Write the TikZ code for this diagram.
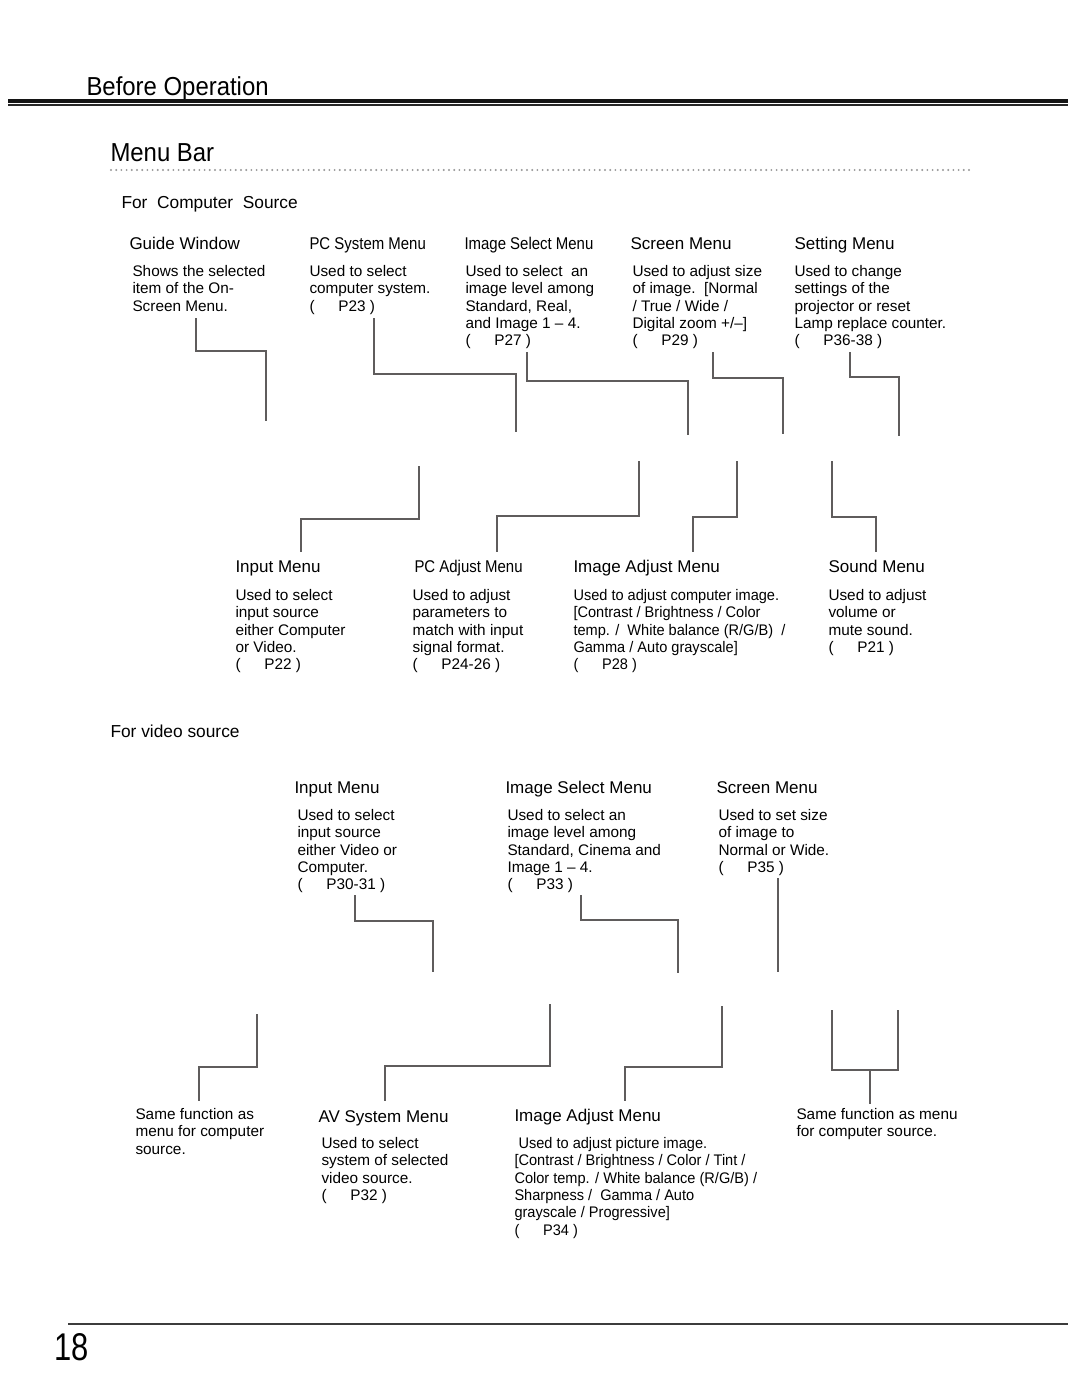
\documentclass[tikz,border=0pt]{standalone}
\usepackage{fontspec}
\setmainfont{Liberation Sans}
\newfontfamily\narrowfont{Liberation Sans}[FakeStretch=0.88]
\newfontfamily\semifont{Liberation Sans}[FakeStretch=0.95]
\newfontfamily\titlefont{Liberation Sans}[FakeStretch=0.92]
\newfontfamily\numfont{Liberation Sans}[FakeStretch=0.8]
\newcommand{\pref}[1]{(\hspace{1.55em}#1 )}

\tikzset{every picture/.style={line width=0.75pt}}

\begin{document}
\begin{tikzpicture}[x=0.75pt,y=0.75pt,yscale=-1,xscale=1,
  head/.style={anchor=base west,inner sep=0pt,font=\fontsize{12.75}{15}\selectfont},
  nhead/.style={head,font=\fontsize{12.75}{15}\selectfont\narrowfont},
  body/.style={anchor=north west,inner sep=0pt,align=left,font=\fontsize{11.5}{13}\selectfont},
  nbody/.style={body,font=\fontsize{11.5}{13}\selectfont\semifont},
  link/.style={draw={rgb, 255:red, 95; green, 92; blue, 92},line width=1pt}]
\path[use as bounding box] (0,0) rectangle (1080,1397);

%Page header
\node (before) [anchor=base west,inner sep=0pt,font=\fontsize{19.5}{22}\selectfont\titlefont] at (86,95) {Before Operation};
\coordinate (ruleL) at (8,101);
\coordinate (ruleR) at (1068,101);
\coordinate (rule2L) at (8,104.8);
\coordinate (rule2R) at (1068,104.8);
\draw [line width=3pt,color={rgb, 255:red, 20; green, 20; blue, 20}] (ruleL) -- (ruleR);
\draw [line width=1.1pt,color={rgb, 255:red, 40; green, 40; blue, 40}] (rule2L) -- (rule2R);

\node (menubar) [anchor=base west,inner sep=0pt,font=\fontsize{19.5}{22}\selectfont\titlefont] at (110,161) {Menu Bar};
\coordinate (dotL) at (111,170);
\coordinate (dotR) at (970,170);
\draw [color={rgb, 255:red, 150; green, 150; blue, 150},line width=1.6pt,line cap=round,dash pattern=on 0pt off 3.9pt] (dotL) -- (dotR);

% Text Node
\node (forpc) [head,font=\fontsize{13}{15}\selectfont] at (121,208) {For\ \ Computer\ \ Source};

%Computer source, upper row
\node (guide) [head] at (129,249) {Guide Window};
\node (guidetx) [body] at (132,265) {Shows the selected\\item of the On-\\Screen Menu.};
\node (pcsys) [nhead] at (309,249) {PC System Menu};
\node (pcsystx) [body] at (309,265) {Used to select\\computer system.\\\pref{P23}};
\node (imgsel) [nhead] at (464,249) {Image Select Menu};
\node (imgseltx) [body] at (465,265) {Used to select\ \ an\\image level among\\Standard, Real,\\and Image 1 – 4.\\\pref{P27}};
\node (screen) [head] at (630,249) {Screen Menu};
\node (screentx) [body] at (632,265) {Used to adjust size\\of image.\ \ [Normal\\/ True / Wide /\\Digital zoom +/–]\\\pref{P29}};
\node (setting) [head] at (794,249) {Setting Menu};
\node (settingtx) [body] at (794,265) {Used to change\\settings of the\\projector or reset\\Lamp replace counter.\\\pref{P36-38}};

%Computer source, lower row
\node (input) [head] at (235,572) {Input Menu};
\node (inputtx) [body] at (235,589) {Used to select\\input source\\either Computer\\or Video.\\\pref{P22}};
\node (pcadj) [nhead] at (414,572) {PC Adjust Menu};
\node (pcadjtx) [body] at (412,589) {Used to adjust\\parameters to\\match with input\\signal format.\\\pref{P24-26}};
\node (imgadj) [head] at (573,572) {Image Adjust Menu};
\node (imgadjtx) [nbody] at (573,589) {Used to adjust computer image.\\{}[Contrast / Brightness / Color\\temp. /\ \ White balance (R/G/B)\ \ /\\Gamma / Auto grayscale]\\\pref{P28}};
\node (sound) [head] at (828,572) {Sound Menu};
\node (soundtx) [body] at (828,589) {Used to adjust\\volume or\\mute sound.\\\pref{P21}};

%Straight Lines, computer source
\coordinate (gw1) at (196,318);   \coordinate (gw2) at (266,421);
\coordinate (pcs1) at (374,318);  \coordinate (pcs2) at (516,432);
\coordinate (isl1) at (527,352);  \coordinate (isl2) at (688,435);
\coordinate (scr1) at (713,352);  \coordinate (scr2) at (783,434);
\coordinate (set1) at (850,352);  \coordinate (set2) at (899,436);
\coordinate (inp1) at (419,466);  \coordinate (inp2) at (301,552);
\coordinate (pca1) at (639,461);  \coordinate (pca2) at (497,552);
\coordinate (iad1) at (737,461);  \coordinate (iad2) at (693,552);
\coordinate (snd1) at (832,461);  \coordinate (snd2) at (876,552);
\draw [link] (gw1) -- ++(0,33) -| (gw2);
\draw [link] (pcs1) -- ++(0,56) -| (pcs2);
\draw [link] (isl1) -- ++(0,29) -| (isl2);
\draw [link] (scr1) -- ++(0,26) -| (scr2);
\draw [link] (set1) -- ++(0,25) -| (set2);
\draw [link] (inp1) -- ++(0,53) -| (inp2);
\draw [link] (pca1) -- ++(0,55) -| (pca2);
\draw [link] (iad1) -- ++(0,56) -| (iad2);
\draw [link] (snd1) -- ++(0,56) -| (snd2);

% Text Node
\node (forvideo) [head,font=\fontsize{13}{15}\selectfont] at (110,737) {For video source};

%Video source, upper row
\node (vinput) [head] at (294,793) {Input Menu};
\node (vinputtx) [body] at (297,809) {Used to select\\input source\\either Video or\\Computer.\\\pref{P30-31}};
\node (vimgsel) [head] at (505,793) {Image Select Menu};
\node (vimgseltx) [body] at (507,809) {Used to select an\\image level among\\Standard, Cinema and\\Image 1 – 4.\\\pref{P33}};
\node (vscreen) [head] at (716,793) {Screen Menu};
\node (vscreentx) [body] at (718,809) {Used to set size\\of image to\\Normal or Wide.\\\pref{P35}};

%Video source, lower row
\node (vsame) [body] at (135,1108) {Same function as\\menu for computer\\source.};
\node (avsys) [head] at (318,1122) {AV System Menu};
\node (avsystx) [body] at (321,1137) {Used to select\\system of selected\\video source.\\\pref{P32}};
\node (vimgadj) [head] at (514,1121) {Image Adjust Menu};
\node (vimgadjtx) [nbody] at (514,1137) {\ Used to adjust picture image.\\{}[Contrast / Brightness / Color / Tint /\\Color temp. / White balance (R/G/B) /\\Sharpness /\ \ Gamma / Auto\\grayscale / Progressive]\\\pref{P34}};
\node (vsame2) [body] at (796,1108) {Same function as menu\\for computer source.};

%Straight Lines, video source
\coordinate (vin1) at (355,895);  \coordinate (vin2) at (433,972);
\coordinate (vis1) at (581,895);  \coordinate (vis2) at (678,973);
\coordinate (vsc1) at (778,878);  \coordinate (vsc2) at (778,972);
\coordinate (vsm1) at (257,1014); \coordinate (vsm2) at (199,1101);
\coordinate (vav1) at (550,1004); \coordinate (vav2) at (385,1101);
\coordinate (via1) at (722,1006); \coordinate (via2) at (625,1101);
\coordinate (sbL) at (832,1010);  \coordinate (sbR) at (898,1010);
\coordinate (sbJ) at (870,1070);  \coordinate (sbE) at (870,1104);
\draw [link] (vin1) -- ++(0,26) -| (vin2);
\draw [link] (vis1) -- ++(0,25) -| (vis2);
\draw [link] (vsc1) -- (vsc2);
\draw [link] (vsm1) -- ++(0,53) -| (vsm2);
\draw [link] (vav1) -- ++(0,62) -| (vav2);
\draw [link] (via1) -- ++(0,61) -| (via2);
\draw [link] (sbL) |- (sbR |- sbJ) -- (sbR);
\draw [link] (sbJ) -- (sbE);

%Page footer
\coordinate (footL) at (68,1324);
\coordinate (footR) at (1068,1324);
\draw [line width=1.9pt,color={rgb, 255:red, 60; green, 60; blue, 60}] (footL) -- (footR);
\node (pageno) [anchor=base west,inner sep=0pt,font=\fontsize{29}{32}\selectfont\numfont] at (54,1360) {18};

\end{tikzpicture}
\end{document}
